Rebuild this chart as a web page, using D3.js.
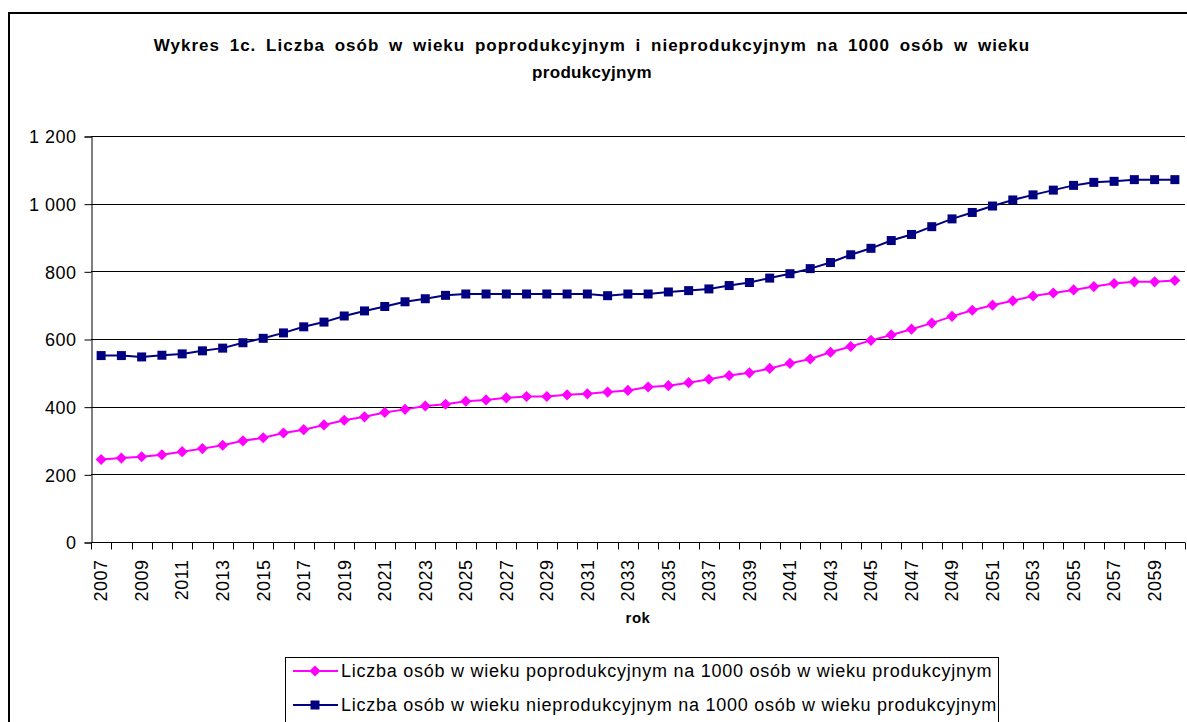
<!DOCTYPE html>
<html>
<head>
<meta charset="UTF-8" />
<title>Wykres 1c</title>
<script src="https://cdn.jsdelivr.net/npm/d3@7"></script>
<style>
body{margin:0;background:#fff;}
text{font-family:"Liberation Sans",Arial,sans-serif;fill:#000;}
</style>
</head>
<body>
<div id="svg_container"></div>
<script type="text/javascript">
var w=1187,h=722;

var years=d3.range(2007,2061);
var poprod=[244,248,252,258,267,276,286,299,308,322,332,346,360,370,383,392,402,407,416,420,426,430,430,435,438,443,448,458,462,471,481,492,500,513,528,541,561,578,596,612,629,647,667,685,700,713,727,736,745,755,764,769,769,773];
var nieprod=[551,551,547,552,556,565,573,589,602,618,636,650,668,683,696,710,719,729,733,733,733,733,733,733,733,728,733,733,739,743,748,758,767,780,793,808,826,849,868,891,909,932,955,974,993,1011,1026,1040,1054,1063,1066,1071,1071,1071];
var yTicks=[0,200,400,600,800,1000,1200];
var titleLines=['Wykres 1c. Liczba osób w wieku poprodukcyjnym i nieprodukcyjnym na 1000 osób w wieku','produkcyjnym'];
var legendLabels=['Liczba osób w wieku poprodukcyjnym na 1000 osób w wieku produkcyjnym','Liczba osób w wieku nieprodukcyjnym na 1000 osób w wieku produkcyjnym'];

// plot area (note: "top" is taken by window.top)
var pl=91,pr=1185,pt=136,pb=542;

var svg=d3.select('#svg_container')
          .append('svg')
          .attr('width',w)
          .attr('height',h);

// chart area border
svg.append('rect')
   .attr('x',9).attr('y',13)
   .attr('width',1200).attr('height',800)
   .attr('fill','none')
   .attr('stroke','#000')
   .attr('stroke-width',2);

var x=d3.scaleBand().domain(years).range([pl,pr]);
var y=d3.scaleLinear().domain([0,1200]).range([pb,pt]);

// gridlines
svg.append('g').selectAll('line')
   .data(yTicks.slice(1))
   .enter().append('line')
   .attr('x1',pl).attr('x2',pr)
   .attr('y1',function(d){return Math.round(y(d))+0.5;})
   .attr('y2',function(d){return Math.round(y(d))+0.5;})
   .attr('stroke','#000')
   .attr('stroke-width',1);

// y axis
var yAxis=d3.axisLeft(y).tickValues(yTicks).tickSize(7).tickPadding(8)
            .tickFormat(function(d){return d3.format(',')(d).replace(',',' ');});
var gy=svg.append('g').attr('transform','translate('+(pl+0.5)+',0.5)').call(yAxis);
gy.select('.domain').attr('stroke','#000');
gy.selectAll('.tick line').attr('stroke','#000');
gy.selectAll('text')
  .attr('font-family',null)
  .style('font-size','18px')
  .style('letter-spacing','0.5px')
  .attr('dy','0.35em');

// x axis: ticks at category boundaries
var gx=svg.append('g').attr('transform','translate(0,'+(pb+0.5)+')');
gx.append('line').attr('x1',pl).attr('x2',pr).attr('stroke','#000');
gx.selectAll('line.tk')
  .data(years.concat([2061]))
  .enter().append('line')
  .attr('class','tk')
  .attr('x1',function(d,i){return Math.round(pl+i*x.step())+0.5;})
  .attr('x2',function(d,i){return Math.round(pl+i*x.step())+0.5;})
  .attr('y1',0).attr('y2',7)
  .attr('stroke','#000');
gx.selectAll('text')
  .data(years.filter(function(d){return d%2==1;}))
  .enter().append('text')
  .attr('transform',function(d){return 'translate('+(x(d)+x.bandwidth()/2)+',17) rotate(-90)';})
  .attr('text-anchor','end')
  .attr('dy','0.35em')
  .style('font-size','18px')
  .style('letter-spacing','0.5px')
  .text(function(d){return d;});

// axis title
svg.append('text')
   .attr('x',(pl+pr)/2).attr('y',623)
   .attr('text-anchor','middle')
   .style('font-size','15px').style('font-weight','bold')
   .style('letter-spacing','0.5px')
   .text('rok');

// chart title
svg.append('g').selectAll('text')
   .data(titleLines)
   .enter().append('text')
   .attr('x',592)
   .attr('y',function(d,i){return 51+i*27;})
   .attr('text-anchor','middle')
   .style('font-size','17px').style('font-weight','bold')
   .style('letter-spacing',function(d,i){return i==0?'1px':'0.3px';})
   .style('word-spacing',function(d,i){return i==0?'4px':'0px';})
   .text(function(d){return d;});

// series
var line=d3.line()
  .x(function(d,i){return x(years[i])+x.bandwidth()/2;})
  .y(function(d){return y(d);});

var series=[
  {values:poprod,color:'#FF00FF',symbol:d3.symbolSquare,size:62,rot:45},
  {values:nieprod,color:'#000080',symbol:d3.symbolSquare,size:81,rot:0}
];

series.forEach(function(s){
  svg.append('path')
     .attr('d',line(s.values))
     .attr('fill','none')
     .attr('stroke',s.color)
     .attr('stroke-width',2);
  svg.append('g').selectAll('path')
     .data(s.values)
     .enter().append('path')
     .attr('transform',function(d,i){return 'translate('+(x(years[i])+x.bandwidth()/2)+','+y(d)+') rotate('+s.rot+')';})
     .attr('d',d3.symbol().type(s.symbol).size(s.size))
     .attr('fill',s.color);
});

// legend
var lg=svg.append('g');
lg.append('rect')
  .attr('x',285.5).attr('y',657.5)
  .attr('width',713).attr('height',80)
  .attr('fill','#fff')
  .attr('stroke','#000');
legendLabels.forEach(function(t,i){
  var cy=671+i*34;
  lg.append('line')
    .attr('x1',293).attr('x2',338)
    .attr('y1',cy).attr('y2',cy)
    .attr('stroke',series[i].color).attr('stroke-width',2);
  lg.append('path')
    .attr('transform','translate(315,'+cy+') rotate('+series[i].rot+')')
    .attr('d',d3.symbol().type(series[i].symbol).size(series[i].size))
    .attr('fill',series[i].color);
  lg.append('text')
    .attr('x',341).attr('y',cy)
    .attr('dy','0.35em')
    .style('font-size','18px')
    .style('letter-spacing','0.75px')
    .text(t);
});
</script>
</body>
</html>
